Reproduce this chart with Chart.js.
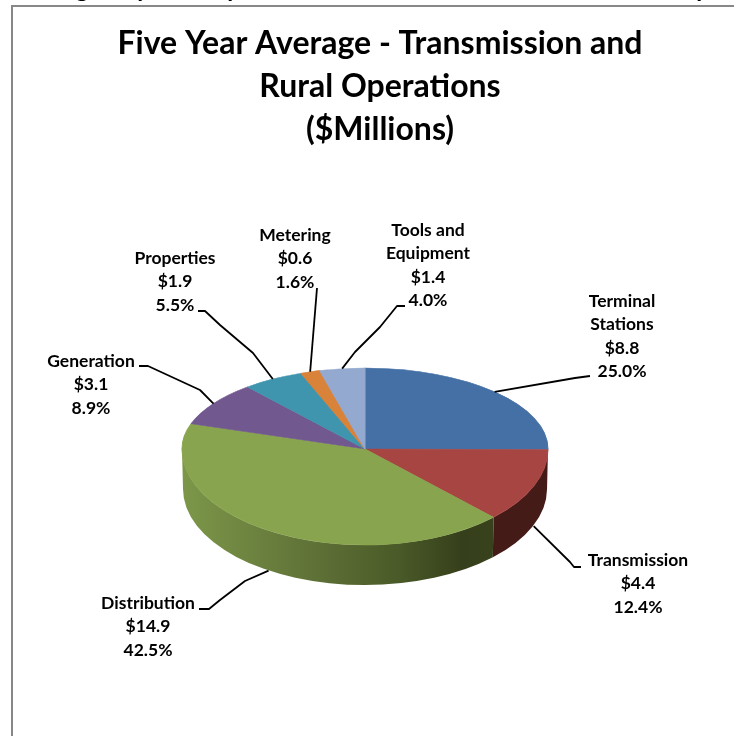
<!DOCTYPE html>
<html>
<head>
<meta charset="utf-8">
<title>Five Year Average</title>
<script src="https://cdn.jsdelivr.net/npm/chart.js@4"></script>
<style>
  html, body { margin: 0; padding: 0; background: #fff; }
  canvas { display: block; }
</style>
</head>
<body>
<canvas id="chart" width="734" height="736"></canvas>
<script>
'use strict';

var titleLines = ['Five Year Average - Transmission and', 'Rural Operations', '($Millions)'];

var categories = [
  ['Terminal', 'Stations'],
  ['Transmission'],
  ['Distribution'],
  ['Generation'],
  ['Properties'],
  ['Metering'],
  ['Tools and', 'Equipment']
];
var amounts = [8.8, 4.4, 14.9, 3.1, 1.9, 0.6, 1.4];
var percents = ['25.0%', '12.4%', '42.5%', '8.9%', '5.5%', '1.6%', '4.0%'];

var faceColors = ['#4570a5', '#a74543', '#88a44e', '#71588f', '#4095ae', '#d98239', '#93a9cf'];
var wallColors = ['#2c4768', '#451b18', '#6b8139', '#46365a', '#285d6d', '#884f22', '#5c6a82'];

// pie geometry: the back half of the rim is flatter than the front half
var PIE_X = 365, PIE_Y = 449, RX = 183, RY_BACK = 81, RY_FRONT = 96, DEPTH = 40;

// where each label block sits, and the bends of its leader line
var labelSpots = [
  { x: 622, y: 301, bends: [[575, 378], [590, 376]] },
  { x: 638, y: 560, bends: [[570, 562], [574, 567], [581, 567]] },
  { x: 148, y: 603, bends: [[245, 581], [220, 600], [209, 609], [199, 609]] },
  { x: 91,  y: 361, bends: [[200, 390], [148, 366], [139, 366]] },
  { x: 175, y: 258, bends: [[253, 353], [220, 325], [205, 311], [198, 311]] },
  { x: 295, y: 235, bends: [[317, 288]] },
  { x: 428, y: 230, bends: [[355, 352], [380, 327], [397, 306], [405, 306]] }
];
var LINE_H = 23.5;
var LABEL_FONT = 'bold 17.5px Lato';

function greenWall(ctx) {
  var g = ctx.createLinearGradient(PIE_X - RX, 0, 500, 0);
  g.addColorStop(0, '#7c9749');
  g.addColorStop(0.35, '#64773a');
  g.addColorStop(0.68, '#4a5a28');
  g.addColorStop(0.88, '#363f1b');
  g.addColorStop(1, '#38421c');
  return g;
}

var pie3d = {
  id: 'pie3d',
  beforeDraw: function (chart) {
    var ctx = chart.ctx;
    ctx.save();
    ctx.fillStyle = '#fff';
    ctx.fillRect(0, 0, chart.width, chart.height);
    // outer frame, left and top edges only show
    ctx.strokeStyle = '#888';
    ctx.lineWidth = 2;
    ctx.beginPath();
    ctx.moveTo(12, chart.height);
    ctx.lineTo(12, 6);
    ctx.lineTo(chart.width, 6);
    ctx.stroke();
    // tails of the heading line running off the top edge
    ctx.fillStyle = '#000';
    ctx.font = 'bold 24px Lato';
    ctx.textAlign = 'center';
    ctx.textBaseline = 'alphabetic';
    ctx.fillText('g', 82, -3);
    ctx.fillText('p', 144, -3);
    ctx.fillText('p', 234, -3);
    ctx.fillText('p', 703, -3);
    ctx.restore();
  },
  beforeDatasetsDraw: function (chart) {
    var ctx = chart.ctx;
    var arcs = chart.getDatasetMeta(0).data;

    // front wall, only the part of each slice facing the viewer
    arcs.forEach(function (arc, i) {
      var a0 = Math.max(arc.startAngle, 0);
      var a1 = Math.min(arc.endAngle, Math.PI);
      if (a1 <= a0) return;
      ctx.beginPath();
      ctx.ellipse(PIE_X, PIE_Y, RX, RY_FRONT, 0, a0, a1);
      ctx.ellipse(PIE_X, PIE_Y + DEPTH, RX - 1, RY_FRONT, 0, a1, a0, true);
      ctx.closePath();
      ctx.fillStyle = i === 2 ? greenWall(ctx) : wallColors[i];
      ctx.fill();
    });

    // top face, squashed separately above and below the centre line
    [[0, PIE_Y, RY_BACK], [PIE_Y, chart.height - PIE_Y, RY_FRONT]].forEach(function (pass) {
      ctx.save();
      ctx.beginPath();
      ctx.rect(0, pass[0], chart.width, pass[1]);
      ctx.clip();
      ctx.translate(PIE_X, PIE_Y);
      ctx.scale(RX / arcs[0].outerRadius, pass[2] / arcs[0].outerRadius);
      ctx.translate(-arcs[0].x, -arcs[0].y);
      arcs.forEach(function (arc) { arc.draw(ctx); });
      ctx.restore();
    });
    return false;
  },
  afterDraw: function (chart) {
    var ctx = chart.ctx;
    var arcs = chart.getDatasetMeta(0).data;
    ctx.save();
    ctx.strokeStyle = '#000';
    ctx.lineWidth = 1.8;
    ctx.lineJoin = 'round';
    labelSpots.forEach(function (spot, i) {
      // leader starts on the rim at the middle of the slice
      var mid = (arcs[i].startAngle + arcs[i].endAngle) / 2;
      var front = Math.sin(mid) > 0;
      var sx = PIE_X + RX * Math.cos(mid);
      var sy = PIE_Y + (front ? RY_FRONT : RY_BACK) * Math.sin(mid) + (front ? DEPTH : 0);
      ctx.beginPath();
      ctx.moveTo(sx, sy);
      spot.bends.forEach(function (b) { ctx.lineTo(b[0], b[1]); });
      ctx.stroke();

      var lines = categories[i].concat(['$' + amounts[i].toFixed(1), percents[i]]);
      ctx.fillStyle = '#000';
      ctx.font = LABEL_FONT;
      ctx.textAlign = 'center';
      ctx.textBaseline = 'middle';
      lines.forEach(function (line, n) {
        ctx.fillText(line, spot.x, spot.y + n * LINE_H);
      });
    });
    ctx.restore();
  }
};

new Chart(document.getElementById('chart').getContext('2d'), {
  type: 'pie',
  data: {
    labels: categories,
    datasets: [{
      data: amounts,
      backgroundColor: faceColors,
      borderColor: faceColors,
      borderWidth: 1
    }]
  },
  options: {
    responsive: false,
    animation: false,
    layout: { padding: { top: 22, bottom: 104, left: 26, right: 0 } },
    plugins: {
      legend: { display: false },
      tooltip: { enabled: false },
      title: {
        display: true,
        text: titleLines,
        color: '#000',
        font: { family: 'Lato', weight: 'bold', size: 32, lineHeight: 43 / 32 },
        padding: { top: 0, bottom: 115 }
      }
    }
  },
  plugins: [pie3d]
});
</script>
</body>
</html>
